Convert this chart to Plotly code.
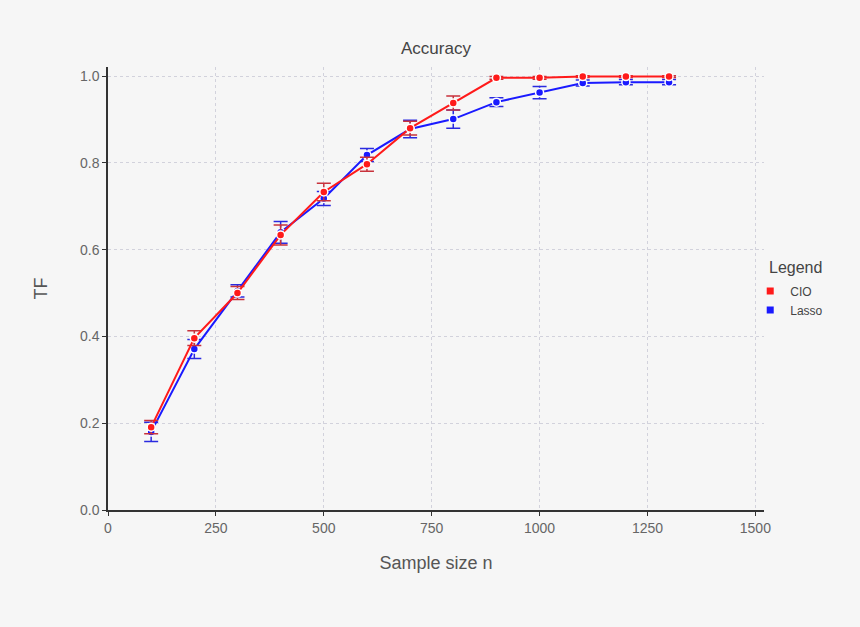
import plotly.graph_objects as go

n = [100, 200, 300, 400, 500, 600, 700, 800, 900, 1000, 1100, 1200, 1300]
cio = [0.191, 0.396, 0.500, 0.634, 0.733, 0.797, 0.880, 0.938, 0.996, 0.996, 0.999, 0.999, 0.999]
cio_err = [0.015, 0.017, 0.015, 0.023, 0.020, 0.016, 0.016, 0.016, 0.003, 0.003, 0.002, 0.002, 0.002]
lasso = [0.180, 0.371, 0.505, 0.640, 0.718, 0.818, 0.878, 0.901, 0.940, 0.962, 0.984, 0.986, 0.986]
lasso_err = [0.022, 0.022, 0.014, 0.025, 0.016, 0.015, 0.020, 0.021, 0.010, 0.014, 0.007, 0.006, 0.006]
series_names = ["CIO", "Lasso"]

RED = "#ff1a1a"
BLUE = "#1a1aff"

fig = go.Figure()
fig.add_trace(go.Scatter(
    x=n, y=lasso, name="Lasso", mode="lines+markers", showlegend=False,
    line=dict(color=BLUE, width=2),
    marker=dict(color=BLUE, size=8, line=dict(color="white", width=1.5)),
    error_y=dict(type="data", array=lasso_err, color="#2a2ae0", thickness=1.5, width=7),
))
fig.add_trace(go.Scatter(
    x=n, y=cio, name="CIO", mode="lines+markers", showlegend=False,
    line=dict(color=RED, width=2),
    marker=dict(color=RED, size=8, line=dict(color="white", width=1.5)),
    error_y=dict(type="data", array=cio_err, color="#c8323c", thickness=1.5, width=7),
))
# legend entries: small squares
for name, col in zip(series_names, [RED, BLUE]):
    fig.add_trace(go.Scatter(
        x=[None], y=[None], name=name, mode="markers",
        marker=dict(color=col, symbol="square", size=7),
    ))

grid = "rgba(195,195,210,0.7)"
fig.update_layout(
    width=860, height=627,
    paper_bgcolor="#f6f6f6", plot_bgcolor="#f6f6f6",
    margin=dict(l=108, r=96, t=67, b=117),
    font=dict(family="Liberation Sans, Arial, sans-serif", color="#555555"),
    title=dict(text="Accuracy", x=0.5, xref="paper", y=1 - 48/627, yanchor="middle",
               font=dict(size=17, color="#444444")),
    legend=dict(
        x=0.979, xanchor="left", y=0.527, yanchor="top",
        font=dict(size=12, color="#444444"),
        bgcolor="rgba(0,0,0,0)", itemwidth=30, tracegroupgap=0,
    ),
    showlegend=True,
    annotations=[dict(
        text="Legend", xref="paper", yref="paper", x=1.004, y=0.547,
        xanchor="left", yanchor="middle", showarrow=False,
        font=dict(size=16, color="#444444"),
    )],
)
fig.update_xaxes(
    range=[0, 1520], tickvals=[0, 250, 500, 750, 1000, 1250, 1500],
    showline=True, linecolor="#333333", linewidth=1.5,
    showgrid=True, gridcolor=grid, griddash="dot", gridwidth=1,
    zeroline=False, ticks="outside", ticklen=4, tickcolor="#333333",
    tickfont=dict(size=14, color="#666666"),
    title=dict(text="Sample size n", font=dict(size=18, color="#555555"), standoff=22),
)
fig.update_yaxes(
    range=[0, 1.021], tickvals=[0, 0.2, 0.4, 0.6, 0.8, 1.0],
    ticktext=["0.0", "0.2", "0.4", "0.6", "0.8", "1.0"],
    showline=True, linecolor="#333333", linewidth=1.5,
    showgrid=True, gridcolor=grid, griddash="dot", gridwidth=1,
    zeroline=False, ticks="outside", ticklen=4, tickcolor="#333333",
    tickfont=dict(size=14, color="#666666"),
    title=dict(text="TF", font=dict(size=18, color="#555555"), standoff=28),
)

fig.write_html("out.html")
